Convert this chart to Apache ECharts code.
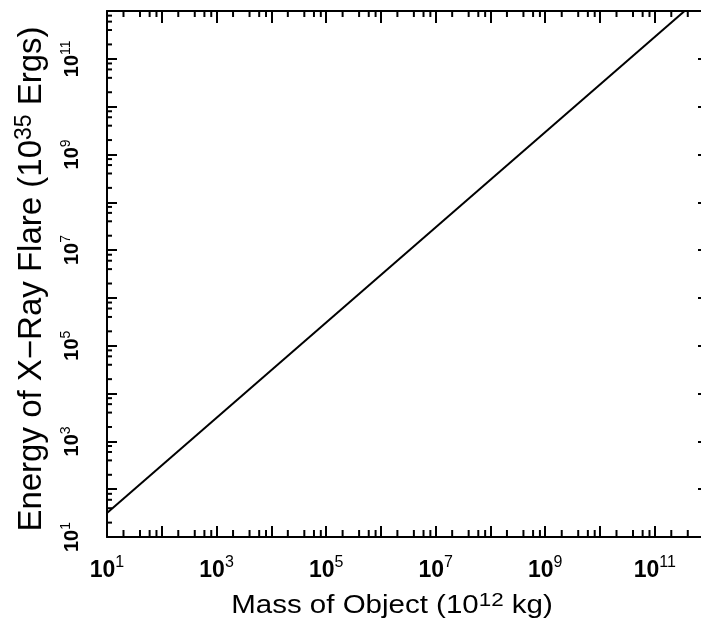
<!DOCTYPE html>
<html>
<head>
<meta charset="UTF-8">
<title>X-Ray Flare Energy</title>
<script type="text/javascript" src="https://cdn.jsdelivr.net/npm/echarts@6/dist/echarts.min.js"></script>
</head>
<body style="margin:0;">
	<div id="flareChart" style="width: 701px; height: 620px;"></div>

	<script type="text/javascript">
	// data (raw values, plotted on log10 scales)
	var massValues = [10, 3.5e11];          // 10^12 kg
	var energyValues = [31.6, 1.0e12];      // 10^35 ergs

	// axis ranges in decades
	var xMinExp = 1, xMaxExp = 11.88;
	var yMinExp = 1, yMaxExp = 12;
	var minorSteps = [2, 4, 6, 8];

	var lineData = [];
	for (var i = 0; i < massValues.length; i++) {
		lineData.push([Math.log10(massValues[i]), Math.log10(energyValues[i])]);
	}

	// minor tick positions (log space)
	var xMinor = [], yMinor = [];
	for (var d = 1; d < 12; d++) {
		for (var k = 0; k < minorSteps.length; k++) {
			var p = d + Math.log10(minorSteps[k]);
			if (p < 11.7) xMinor.push([p]);
			if (p < yMaxExp) yMinor.push([p]);
		}
	}

	var xRich = {
		b: { fontFamily: 'Liberation Sans', fontWeight: 'bold', fontSize: 23, color: '#000' },
		s: { fontFamily: 'Liberation Sans', fontSize: 16, color: '#000', padding: [0, 0, 16, 0] }
	};
	var yRich = {
		b: { fontFamily: 'Liberation Sans', fontWeight: 'bold', fontSize: 20, color: '#000' },
		s: { fontFamily: 'Liberation Sans', fontSize: 14, color: '#000', padding: [0, 0, 13, 0] }
	};
	function powLabel(v) {
		var e = Math.round(v);
		if (Math.abs(v - e) > 1e-6 || e % 2 !== 1) return '';
		return '{b|10}{s|' + e + '}';
	}

	var chart = echarts.init(document.getElementById('flareChart'));

	var option = {
		animation: false,
		backgroundColor: '#fff',
		grid: { left: 107, top: 11, width: 596, height: 526, outerBoundsMode: 'none', containLabel: false },
		xAxis: [{
			type: 'value', min: xMinExp, max: xMaxExp, interval: 1,
			position: 'bottom',
			axisLine: { lineStyle: { color: '#000', width: 2 } },
			axisTick: { inside: true, length: 11, lineStyle: { color: '#000', width: 2 } },
			axisLabel: { margin: 18, formatter: powLabel, rich: xRich, showMinLabel: true, showMaxLabel: false },
			splitLine: { show: false }
		}, {
			type: 'value', min: xMinExp, max: xMaxExp, interval: 1,
			position: 'top',
			axisLine: { lineStyle: { color: '#000', width: 2 } },
			axisTick: { inside: true, length: 12, lineStyle: { color: '#000', width: 2 } },
			axisLabel: { show: false },
			splitLine: { show: false }
		}],
		yAxis: [{
			type: 'value', min: yMinExp, max: yMaxExp, interval: 1,
			position: 'left',
			axisLine: { lineStyle: { color: '#000', width: 2 } },
			axisTick: { inside: true, length: 10, lineStyle: { color: '#000', width: 2 } },
			axisLabel: { margin: 21, rotate: 90, formatter: powLabel, rich: yRich, showMinLabel: true, showMaxLabel: false },
			splitLine: { show: false }
		}, {
			// right frame lies just past the picture edge: only its ticks show
			type: 'value', min: yMinExp, max: yMaxExp, interval: 1,
			position: 'right',
			axisLine: { show: false },
			axisTick: { inside: true, length: 5, lineStyle: { color: '#000', width: 2 } },
			axisLabel: { show: false },
			splitLine: { show: false }
		}],
		graphic: [{
			type: 'text',
			x: 392, y: 591,
			scaleX: 1.18,
			style: {
				text: 'Mass of Object (10{s|12} kg)',
				font: '25px "Liberation Sans"',
				fill: '#000',
				align: 'center',
				verticalAlign: 'top',
				rich: { s: { fontFamily: 'Liberation Sans', fontSize: 19, fill: '#000', padding: [0, 0, 12, 0] } }
			}
		}, {
			type: 'text',
			x: 32, y: 279,
			rotation: Math.PI / 2,
			style: {
				text: 'Energy of X\u2212Ray Flare (10{s|35} Ergs)',
				font: '33px "Liberation Sans"',
				fill: '#000',
				align: 'center',
				verticalAlign: 'middle',
				rich: { s: { fontFamily: 'Liberation Sans', fontSize: 23, fill: '#000', padding: [0, 0, 14, 0] } }
			}
		}],
		series: [{
			name: 'energy',
			type: 'line',
			data: lineData,
			symbol: 'none',
			lineStyle: { color: '#000', width: 2 },
			z: 3
		}, {
			// minor ticks on bottom and top
			type: 'custom',
			data: xMinor,
			silent: true,
			clip: false,
			renderItem: function (params, api) {
				var px = api.coord([api.value(0), yMinExp])[0];
				var cs = params.coordSys;
				var st = { stroke: '#000', lineWidth: 2 };
				return {
					type: 'group',
					children: [
						{ type: 'line', shape: { x1: px, y1: cs.y + cs.height, x2: px, y2: cs.y + cs.height - 7 }, style: st },
						{ type: 'line', shape: { x1: px, y1: cs.y, x2: px, y2: cs.y + 6 }, style: st }
					]
				};
			}
		}, {
			// minor ticks on left
			type: 'custom',
			data: yMinor.map(function (v) { return [xMinExp, v[0]]; }),
			silent: true,
			clip: false,
			renderItem: function (params, api) {
				var py = api.coord([xMinExp, api.value(1)])[1];
				var cs = params.coordSys;
				return {
					type: 'line',
					shape: { x1: cs.x, y1: py, x2: cs.x + 5, y2: py },
					style: { stroke: '#000', lineWidth: 2 }
				};
			}
		}]
	};

	chart.setOption(option);
	</script>
</body>
</html>
